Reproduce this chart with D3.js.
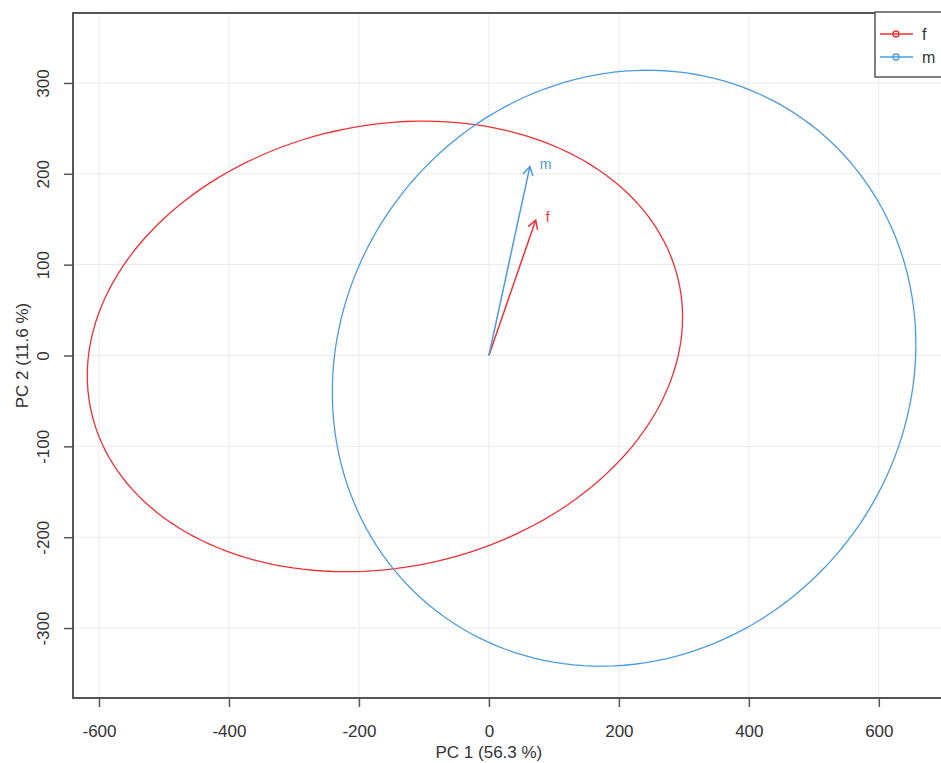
<!DOCTYPE html>
<html>
<head>
<meta charset="utf-8">
<script src="https://cdn.jsdelivr.net/npm/d3@7"></script>
<style>
  body { margin: 0; background: #fff; }
  text { font-family: "Liberation Sans", Arial, sans-serif; }
</style>
</head>
<body>
<div id="chart"></div>
<script>
// groups and their ellipses (center, spread on each axis, correlation)
var groups = ["f", "m"];
var colors = ["#EE3035", "#4C9BE0"];
var ellCx = [-160, 208];
var ellCy = [10, -14];
var ellSx = [458, 449];
var ellSy = [248, 328];
var ellRho = [0.13, 0.08];

// loading arrows
var arrowX = [72, 63];
var arrowY = [149, 208];

var xTicks = [-600, -400, -200, 0, 200, 400, 600];
var yTicks = [-300, -200, -100, 0, 100, 200, 300];
var xTitle = "PC 1 (56.3 %)";
var yTitle = "PC 2 (11.6 %)";

var width = 941, height = 763;
var box = {left: 73, top: 13, right: 962, bottom: 698};

var svg = d3.select("#chart").append("svg")
    .attr("width", width)
    .attr("height", height);

var x = d3.scaleLinear().domain([-640, 728]).range([box.left, box.right]);
var y = d3.scaleLinear().domain([-377, 377]).range([box.bottom, box.top]);

// grid
svg.append("g").selectAll("line").data(xTicks).enter().append("line")
    .attr("x1", d => x(d)).attr("x2", d => x(d))
    .attr("y1", box.top).attr("y2", box.bottom)
    .attr("stroke", "#ebebeb").attr("stroke-width", 1);
svg.append("g").selectAll("line").data(yTicks).enter().append("line")
    .attr("y1", d => y(d)).attr("y2", d => y(d))
    .attr("x1", box.left).attr("x2", box.right)
    .attr("stroke", "#ebebeb").attr("stroke-width", 1);

// ellipses
var line = d3.line().x(d => x(d[0])).y(d => y(d[1]));
groups.forEach(function(g, i) {
    var pts = d3.range(0, 361, 2).map(function(a) {
        var t = a * Math.PI / 180;
        var r = ellRho[i];
        return [ellCx[i] + ellSx[i] * Math.cos(t),
                ellCy[i] + ellSy[i] * (r * Math.cos(t) + Math.sqrt(1 - r * r) * Math.sin(t))];
    });
    svg.append("path")
        .attr("d", line(pts))
        .attr("fill", "none")
        .attr("stroke", colors[i])
        .attr("stroke-width", 1.3);
});

// arrows
groups.forEach(function(g, i) {
    var x0 = x(0), y0 = y(0), x1 = x(arrowX[i]), y1 = y(arrowY[i]);
    var ang = Math.atan2(y1 - y0, x1 - x0);
    var len = 10, spread = Math.PI / 6;
    svg.append("line")
        .attr("x1", x0).attr("y1", y0).attr("x2", x1).attr("y2", y1)
        .attr("stroke", colors[i]).attr("stroke-width", 1.5);
    svg.append("path")
        .attr("d", "M" + (x1 - len * Math.cos(ang - spread)) + "," + (y1 - len * Math.sin(ang - spread)) +
                   "L" + x1 + "," + y1 +
                   "L" + (x1 - len * Math.cos(ang + spread)) + "," + (y1 - len * Math.sin(ang + spread)))
        .attr("fill", "none")
        .attr("stroke", colors[i]).attr("stroke-width", 1.5);
    svg.append("text")
        .attr("x", x1 + 10).attr("y", y1 + 2)
        .attr("font-size", "14px")
        .attr("fill", colors[i])
        .text(g);
});

// axes
var fmt = d => String(d);
var xAxis = d3.axisBottom(x).tickValues(xTicks).tickFormat(fmt).tickSize(9).tickPadding(18);
var gx = svg.append("g").attr("transform", "translate(0," + box.bottom + ")").call(xAxis);
var yAxis = d3.axisLeft(y).tickValues(yTicks).tickFormat(fmt).tickSize(9).tickPadding(0);
var gy = svg.append("g").attr("transform", "translate(" + box.left + ",0)").call(yAxis);
[gx, gy].forEach(function(g) {
    g.select(".domain").remove();
    g.selectAll(".tick line").attr("stroke", "#555").attr("stroke-width", 1.5);
    g.selectAll(".tick text").attr("font-size", "17px").attr("fill", "#333")
        .attr("font-family", "'Liberation Sans', Arial, sans-serif");
});
gy.selectAll(".tick text")
    .attr("x", null).attr("dy", null)
    .attr("text-anchor", "middle")
    .attr("transform", "translate(-30,0) rotate(-90)")
    .attr("dy", "0.35em");

// plot box
svg.append("rect")
    .attr("x", box.left).attr("y", box.top)
    .attr("width", box.right - box.left).attr("height", box.bottom - box.top)
    .attr("fill", "none").attr("stroke", "#555").attr("stroke-width", 2);

// axis titles
svg.append("text")
    .attr("x", x(0)).attr("y", 758)
    .attr("text-anchor", "middle").attr("font-size", "17px").attr("fill", "#333")
    .text(xTitle);
svg.append("text")
    .attr("transform", "translate(28," + y(0) + ") rotate(-90)")
    .attr("text-anchor", "middle").attr("font-size", "17px").attr("fill", "#333")
    .text(yTitle);

// legend
var leg = svg.append("g").attr("transform", "translate(875,12)");
leg.append("rect")
    .attr("width", 90).attr("height", 65)
    .attr("fill", "#fff").attr("stroke", "#555").attr("stroke-width", 1.5);
groups.forEach(function(g, i) {
    var ly = 22 + i * 23;
    leg.append("line")
        .attr("x1", 5).attr("x2", 38).attr("y1", ly).attr("y2", ly)
        .attr("stroke", colors[i]).attr("stroke-width", 1.3);
    leg.append("circle")
        .attr("cx", 21).attr("cy", ly).attr("r", 3)
        .attr("fill", "none").attr("stroke", colors[i]).attr("stroke-width", 1.3);
    leg.append("text")
        .attr("x", 47).attr("y", ly + 6)
        .attr("font-size", "16px").attr("fill", "#333")
        .text(g);
});
</script>
</body>
</html>
